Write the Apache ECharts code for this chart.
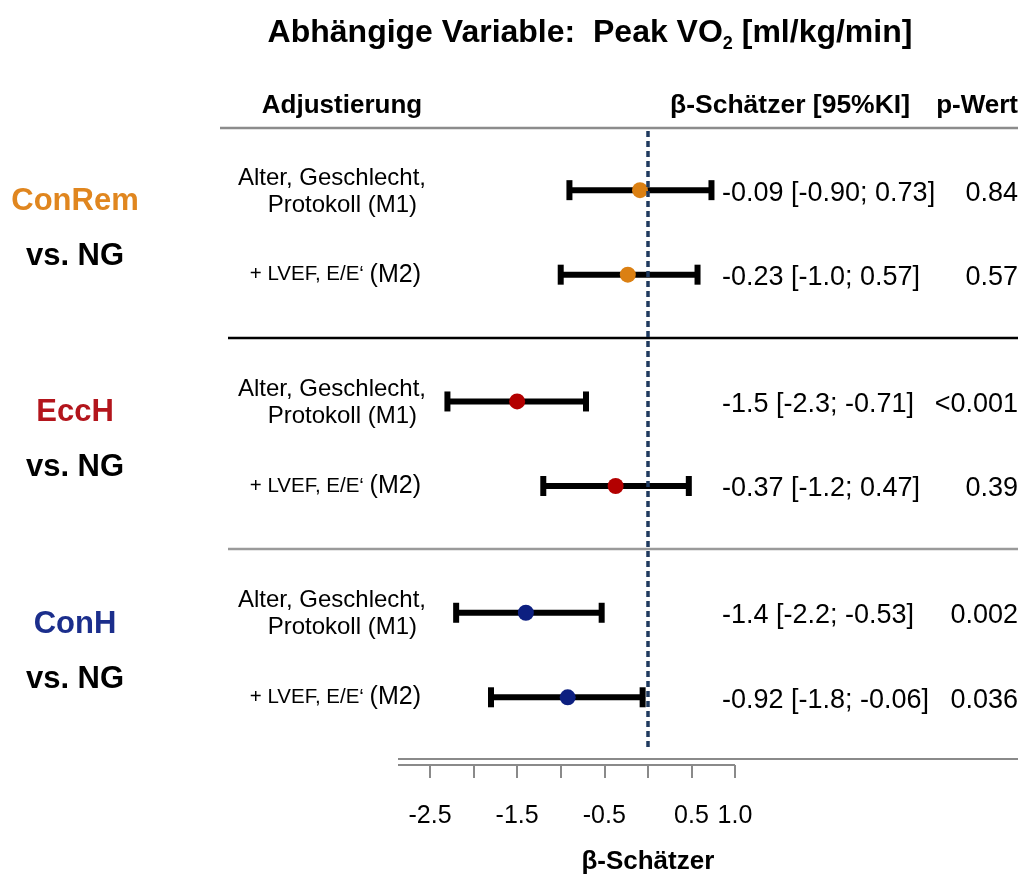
<!DOCTYPE html>
<html><head><meta charset="utf-8">
<script src="https://cdn.jsdelivr.net/npm/echarts@6/dist/echarts.min.js"></script>
<style>html,body{margin:0;padding:0;background:#fff}#c{width:1023px;height:877px}</style>
</head><body><div id="c"></div>
<script>
// ---- data ----
const groups = ['ConRem', 'EccH', 'ConH'];
const comparison = 'vs. NG';
const rowGroup = [0, 0, 1, 1, 2, 2];
const rowModel = [0, 1, 0, 1, 0, 1];
const adjustM1 = ['Alter, Geschlecht,', 'Protokoll (M1)'];
const adjustM2 = '+ LVEF, E/E‘ {m|(M2)}';
const estimates = [-0.09, -0.23, -1.5, -0.37, -1.4, -0.92];
const ciLow = [-0.90, -1.0, -2.3, -1.2, -2.2, -1.8];
const ciHigh = [0.73, 0.57, -0.71, 0.47, -0.53, -0.06];
const estTexts = ['-0.09 [-0.90; 0.73]', '-0.23 [-1.0; 0.57]', '-1.5 [-2.3; -0.71]', '-0.37 [-1.2; 0.47]', '-1.4 [-2.2; -0.53]', '-0.92 [-1.8; -0.06]'];
const pTexts = ['0.84', '0.57', '<0.001', '0.39', '0.002', '0.036'];
const xTickLabels = ['-2.5', '-1.5', '-0.5', '0.5', '1.0'];
const titleText = 'Abhängige Variable:  Peak VO{sub|2} [ml/kg/min]';
const headers = ['Adjustierung', 'β-Schätzer [95%KI]', 'p-Wert'];
const axisTitle = 'β-Schätzer';

// ---- style ----
const FONT = "'Liberation Sans', Arial, sans-serif";
const groupTextColors = ['#E0861F', '#B3151C', '#1B2E8C'];
const pointColors = ['#DB8013', '#B30000', '#0D1F80'];
const rowPos = rowGroup.map((g, i) => g * 2.5 + rowModel[i]);

const chart = echarts.init(document.getElementById('c'), null, {renderer: 'canvas'});
const option = {
  animation: false,
  grid: {left: 430, right: 288, top: 131, bottom: 129},
  xAxis: {
    type: 'value', position: 'bottom', min: -2.5, max: 1.0, interval: 0.5, offset: 17,
    axisLine: {show: false, onZero: false},
    axisTick: {show: true, length: 13, lineStyle: {color: '#8a8a8a', width: 2}},
    splitLine: {show: false},
    axisLabel: {
      margin: 39, fontSize: 25, color: '#000', fontFamily: FONT,
      formatter: v => { const s = v.toFixed(1); return xTickLabels.includes(s) ? s : ''; }
    }
  },
  yAxis: {type: 'value', inverse: true, min: -0.7, max: 6.6, show: false},
  series: [
    {
      type: 'custom', z: 2,
      data: rowPos.map((p, i) => [ciLow[i], ciHigh[i], p]),
      renderItem: (params, api) => {
        const a = api.coord([api.value(0), api.value(2)]);
        const b = api.coord([api.value(1), api.value(2)]);
        const cap = 10, st = {stroke: '#000', lineWidth: 6};
        return {type: 'group', children: [
          {type: 'line', shape: {x1: a[0], y1: a[1], x2: b[0], y2: b[1]}, style: st},
          {type: 'line', shape: {x1: a[0], y1: a[1] - cap, x2: a[0], y2: a[1] + cap}, style: st},
          {type: 'line', shape: {x1: b[0], y1: b[1] - cap, x2: b[0], y2: b[1] + cap}, style: st}
        ]};
      }
    },
    {
      type: 'scatter', z: 3, data: [], silent: true,
      markLine: {
        silent: true, symbol: ['none', 'none'], label: {show: false},
        lineStyle: {color: '#1F3A5F', width: 3.5, type: [6, 4]},
        data: [{xAxis: 0}]
      }
    },
    {
      type: 'scatter', z: 4, symbolSize: 16,
      data: rowPos.map((p, i) => ({value: [estimates[i], p], itemStyle: {color: pointColors[rowGroup[i]], opacity: 1}}))
    }
  ]
};
chart.setOption(option);

const yPix = v => chart.convertToPixel({yAxisIndex: 0}, v);
const xPix = v => chart.convertToPixel({xAxisIndex: 0}, v);
const txt = (x, y, text, o) => ({type: 'text', x, y, silent: true, style: Object.assign({text, fontFamily: FONT, fill: '#000', align: 'center', verticalAlign: 'middle'}, o)});
const hline = (x1, x2, y, color, w) => ({type: 'line', silent: true, shape: {x1, y1: y, x2, y2: y}, style: {stroke: color, lineWidth: w}});

const g = [];
g.push(txt(590, 33, titleText, {fontSize: 32, fontWeight: 'bold', rich: {sub: {fontSize: 18, fontWeight: 'bold', fontFamily: FONT, padding: [22, 0, 0, 0]}}}));
g.push(txt(342, 106, headers[0], {fontSize: 26, fontWeight: 'bold'}));
g.push(txt(790, 106, headers[1], {fontSize: 26.5, fontWeight: 'bold'}));
g.push(txt(1018, 106, headers[2], {fontSize: 26, fontWeight: 'bold', align: 'right'}));
g.push(hline(220, 1018, 128, '#8c8c8c', 2.5));
g.push(hline(228, 1018, Math.round(yPix((rowPos[1] + rowPos[2]) / 2)), '#000', 2.5));
g.push(hline(228, 1018, Math.round(yPix((rowPos[3] + rowPos[4]) / 2)), '#9a9a9a', 2.5));
// axis double line
g.push(hline(398, 1018, 759, '#8a8a8a', 2));
g.push(hline(398, 735, 765, '#8a8a8a', 2));
g.push(txt(xPix(0), 862, axisTitle, {fontSize: 26, fontWeight: 'bold'}));

groups.forEach((name, gi) => {
  const mid = (yPix(gi * 2.5) + yPix(gi * 2.5 + 1)) / 2;
  g.push(txt(75, mid - 31, name, {fontSize: 31, fontWeight: 'bold', fill: groupTextColors[gi]}));
  g.push(txt(75, mid + 24, comparison, {fontSize: 31, fontWeight: 'bold'}));
});
rowPos.forEach((p, i) => {
  const y = yPix(p);
  if (rowModel[i] === 0) {
    g.push(txt(426, y - 12, adjustM1[0], {fontSize: 24, align: 'right'}));
    g.push(txt(417, y + 15, adjustM1[1], {fontSize: 24, align: 'right'}));
  } else {
    g.push(txt(421, y, adjustM2, {fontSize: 20.5, align: 'right', rich: {m: {fontSize: 25, fontFamily: FONT}}}));
  }
  g.push(txt(722, y + 3, estTexts[i], {fontSize: 27, align: 'left'}));
  g.push(txt(1018, y + 3, pTexts[i], {fontSize: 27, align: 'right'}));
});
chart.setOption({graphic: {elements: g}});
</script>
</body></html>
